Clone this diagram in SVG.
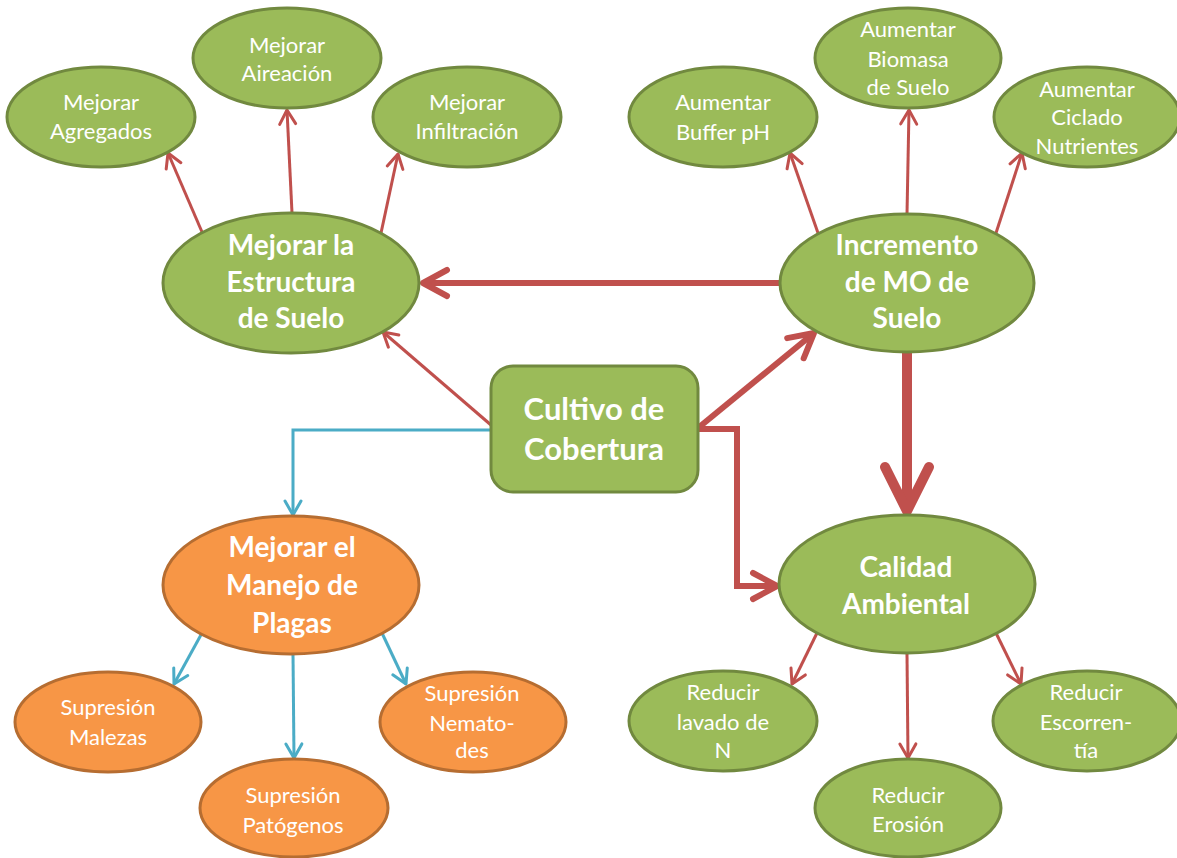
<svg xmlns="http://www.w3.org/2000/svg" width="1177" height="858" viewBox="0 0 1177 858">
<style>
  .g{fill:#9BBB59;stroke:#71893F;stroke-width:3}
  .o{fill:#F79646;stroke:#B66D31;stroke-width:3}
  .t{font-family:Lato,"Open Sans","Liberation Sans",sans-serif;font-size:22px;fill:#FFFFFF;text-anchor:middle}
  .b{font-family:Lato,"Open Sans","Liberation Sans",sans-serif;font-size:28px;font-weight:bold;fill:#FFFFFF;text-anchor:middle}
  .r{fill:none;stroke:#C0504D;stroke-width:3;stroke-linejoin:round}
  .r6{fill:none;stroke:#C0504D;stroke-width:6;stroke-linejoin:miter}
  .r10{fill:none;stroke:#C0504D;stroke-width:10}
  .bl{fill:none;stroke:#4BACC6;stroke-width:3;stroke-linejoin:miter}
</style>
<defs>
  <marker id="ar" viewBox="-20 -12 24 24" markerWidth="24" markerHeight="24" refX="0" refY="0" orient="auto" markerUnits="userSpaceOnUse">
    <path d="M-14,-8 L0,0 L-14,8" fill="none" stroke="#C0504D" stroke-width="3" stroke-linecap="round" stroke-linejoin="round"/>
  </marker>
  <marker id="ab" viewBox="-20 -12 24 24" markerWidth="24" markerHeight="24" refX="0" refY="0" orient="auto" markerUnits="userSpaceOnUse">
    <path d="M-14,-8 L0,0 L-14,8" fill="none" stroke="#4BACC6" stroke-width="3" stroke-linecap="round" stroke-linejoin="round"/>
  </marker>
  <marker id="ar6" viewBox="-32 -20 40 40" markerWidth="40" markerHeight="40" refX="0" refY="0" orient="auto" markerUnits="userSpaceOnUse">
    <path d="M-24,-13 L0,0 L-24,13" fill="none" stroke="#C0504D" stroke-width="6" stroke-linecap="round" stroke-linejoin="round"/>
  </marker>
  <marker id="ar10" viewBox="-55 -30 62 60" markerWidth="62" markerHeight="60" refX="0" refY="0" orient="auto" markerUnits="userSpaceOnUse">
    <path d="M-44,-22 L0,0 L-44,22" fill="none" stroke="#C0504D" stroke-width="10" stroke-linecap="round" stroke-linejoin="round"/>
  </marker>
</defs>
<rect width="1177" height="858" fill="#FFFFFF"/>
<g id="connectors">
  <path class="r" d="M202,232 L168,153" marker-end="url(#ar)"/>
  <path class="r" d="M292,213 L287,110" marker-end="url(#ar)"/>
  <path class="r" d="M381,233 L398,154" marker-end="url(#ar)"/>
  <path class="r" d="M818,233 L790,153" marker-end="url(#ar)"/>
  <path class="r" d="M907,214 L909,110" marker-end="url(#ar)"/>
  <path class="r" d="M996,233 L1022,153" marker-end="url(#ar)"/>
  <path class="r" d="M491,425 L383,332" marker-end="url(#ar)"/>
  <path class="r" d="M817,633 L792,684" marker-end="url(#ar)"/>
  <path class="r" d="M907,654 L908,758" marker-end="url(#ar)"/>
  <path class="r" d="M996,633 L1021,684" marker-end="url(#ar)"/>
  <path class="bl" d="M491,430 L293,430 L293,515" marker-end="url(#ab)"/>
  <path class="bl" d="M202,633 L174,684" marker-end="url(#ab)"/>
  <path class="bl" d="M293,654 L294,758" marker-end="url(#ab)"/>
  <path class="bl" d="M382,633 L406,684" marker-end="url(#ab)"/>
  <path class="r6" d="M780,283 L423,283" marker-end="url(#ar6)"/>
  <path class="r6" d="M698,428 L814,333" marker-end="url(#ar6)"/>
  <path class="r6" d="M698,429 L737,429 L737,586 L777,586" marker-end="url(#ar6)"/>
  <path class="r10" d="M907,352 L907,511" marker-end="url(#ar10)"/>
</g>
<g id="n-agregados"><ellipse class="g" cx="101" cy="117" rx="94" ry="50"/><text class="t"><tspan x="101" y="110">Mejorar</tspan><tspan x="101" y="139">Agregados</tspan></text></g>
<g id="n-aireacion"><ellipse class="g" cx="287" cy="58" rx="94" ry="50"/><text class="t"><tspan x="287" y="53">Mejorar</tspan><tspan x="287" y="81">Aireación</tspan></text></g>
<g id="n-infiltracion"><ellipse class="g" cx="467" cy="117" rx="94" ry="50"/><text class="t"><tspan x="467" y="110">Mejorar</tspan><tspan x="467" y="139">Infiltración</tspan></text></g>
<g id="n-estructura"><ellipse class="g" cx="291" cy="283" rx="128" ry="70"/><text class="b"><tspan x="291" y="255">Mejorar la</tspan><tspan x="291" y="292">Estructura</tspan><tspan x="291" y="328">de Suelo</tspan></text></g>
<g id="n-incremento"><ellipse class="g" cx="907" cy="283" rx="127" ry="69"/><text class="b"><tspan x="907" y="255">Incremento</tspan><tspan x="907" y="292">de MO de</tspan><tspan x="907" y="328">Suelo</tspan></text></g>
<g id="n-buffer"><ellipse class="g" cx="723" cy="117" rx="94" ry="50"/><text class="t"><tspan x="723" y="110">Aumentar</tspan><tspan x="723" y="140">Buffer pH</tspan></text></g>
<g id="n-biomasa"><ellipse class="g" cx="908" cy="58" rx="93" ry="50"/><text class="t"><tspan x="908" y="37">Aumentar</tspan><tspan x="908" y="67">Biomasa</tspan><tspan x="908" y="95">de Suelo</tspan></text></g>
<g id="n-ciclado"><ellipse class="g" cx="1087" cy="117" rx="93" ry="50"/><text class="t"><tspan x="1087" y="97">Aumentar</tspan><tspan x="1087" y="125">Ciclado</tspan><tspan x="1087" y="154">Nutrientes</tspan></text></g>
<g id="n-cultivo"><rect class="g" x="491" y="366" width="207" height="126" rx="22" ry="22"/><text class="b" style="font-size:31px"><tspan x="594" y="420">Cultivo de</tspan><tspan x="594" y="460">Cobertura</tspan></text></g>
<g id="n-plagas"><ellipse class="o" cx="291" cy="585" rx="128" ry="69"/><text class="b"><tspan x="292" y="557">Mejorar el</tspan><tspan x="292" y="595">Manejo de</tspan><tspan x="292" y="633">Plagas</tspan></text></g>
<g id="n-malezas"><ellipse class="o" cx="108" cy="722" rx="93" ry="50"/><text class="t"><tspan x="108" y="715">Supresión</tspan><tspan x="108" y="745">Malezas</tspan></text></g>
<g id="n-patogenos"><ellipse class="o" cx="294" cy="808" rx="94" ry="49"/><text class="t"><tspan x="293" y="803">Supresión</tspan><tspan x="293" y="833">Patógenos</tspan></text></g>
<g id="n-nematodes"><ellipse class="o" cx="473" cy="722" rx="93" ry="50"/><text class="t"><tspan x="472" y="701">Supresión</tspan><tspan x="472" y="731">Nemato-</tspan><tspan x="472" y="758">des</tspan></text></g>
<g id="n-calidad"><ellipse class="g" cx="907" cy="584" rx="128" ry="69"/><text class="b"><tspan x="906" y="577">Calidad</tspan><tspan x="906" y="614">Ambiental</tspan></text></g>
<g id="n-lavado"><ellipse class="g" cx="723" cy="721" rx="94" ry="50"/><text class="t"><tspan x="723" y="700">Reducir</tspan><tspan x="723" y="730">lavado de</tspan><tspan x="723" y="758">N</tspan></text></g>
<g id="n-erosion"><ellipse class="g" cx="908" cy="808" rx="93" ry="49"/><text class="t"><tspan x="908" y="803">Reducir</tspan><tspan x="908" y="832">Erosión</tspan></text></g>
<g id="n-escorrentia"><ellipse class="g" cx="1087" cy="721" rx="94" ry="50"/><text class="t"><tspan x="1086" y="700">Reducir</tspan><tspan x="1086" y="730">Escorren-</tspan><tspan x="1086" y="758">tía</tspan></text></g>
</svg>
